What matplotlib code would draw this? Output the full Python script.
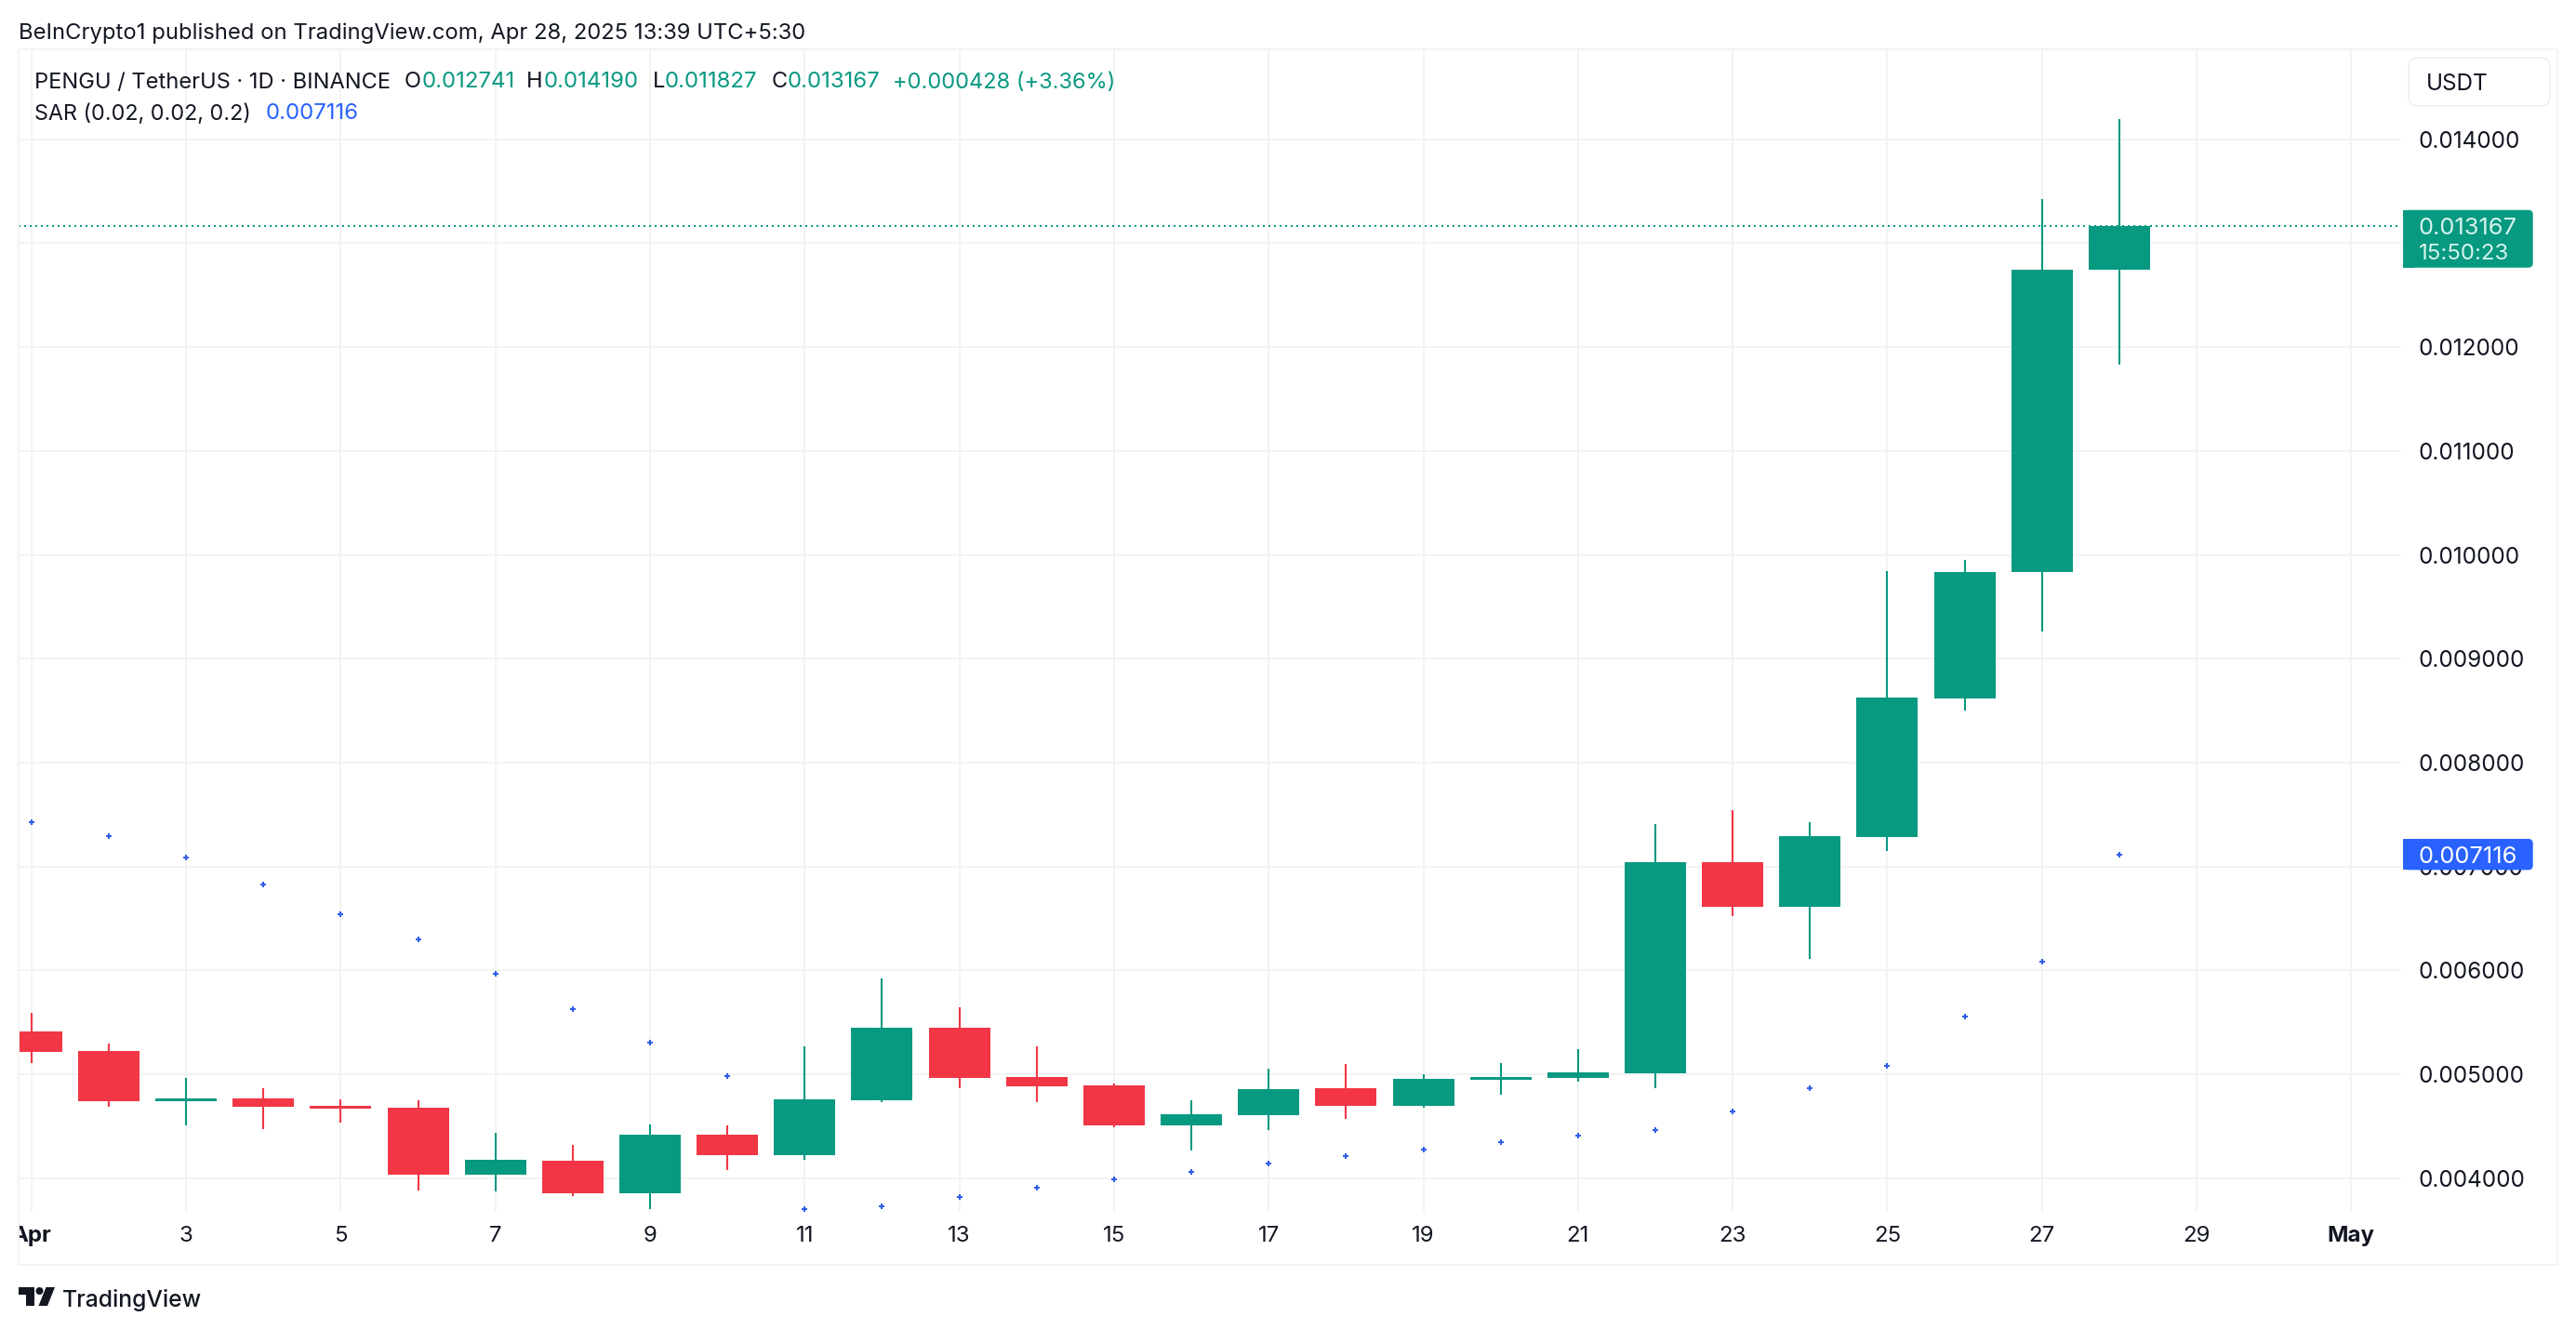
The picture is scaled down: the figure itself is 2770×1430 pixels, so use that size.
import matplotlib
matplotlib.use("Agg")
import matplotlib.pyplot as plt
from matplotlib.patches import Rectangle, FancyBboxPatch, Polygon, Circle
from matplotlib.transforms import Bbox

plt.rcParams['font.family'] = ['Inter', 'DejaVu Sans']

days = list(range(1, 29))
opens = [.005411, .005223, .004743, .004767, .004695, .004677, .004036, .004167, .003857, .004418,
         .004224, .004752, .005447, .004973, .004892, .004510, .004609, .004865, .004698, .004949,
         .004967, .005009, .007042, .006612, .007287, .008618, .009830, .012741]
highs = [.005590, .005295, .004964, .004865, .004758, .004749, .004436, .004319, .004516, .004507,
         .005268, .005921, .005644, .005268, .004910, .004749, .005053, .005098, .005000, .005107,
         .005241, .007406, .007543, .007427, .009839, .009952, .013424, .014190]
lows = [.005110, .004689, .004510, .004474, .004537, .003884, .003875, .003830, .003705, .004081,
        .004179, .004734, .004868, .004734, .004492, .004268, .004465, .004573, .004680, .004805,
        .004931, .004866, .006522, .006110, .007150, .008501, .009263, .011827]
closes = [.005217, .004743, .004767, .004689, .004668, .004036, .004176, .003857, .004418, .004224,
          .004758, .005447, .004967, .004886, .004510, .004615, .004856, .004698, .004955, .004973,
          .005017, .007039, .006612, .007293, .008627, .009830, .012741, .013167]
sar = [.007427, .007293, .007087, .006827, .006540, .006299, .005970, .005626, .005304, .004982,
       .003702, .003729, .003818, .003908, .003988, .004060, .004140, .004212, .004274, .004346,
       .004409, .004460, .004639, .004863, .005078, .005552, .006084, .007116]

price_ticks = [.004, .005, .006, .007, .008, .009, .010, .011, .012, .013, .014]
time_ticks = [1, 3, 5, 7, 9, 11, 13, 15, 17, 19, 21, 23, 25, 27, 29, 31]
time_labels = ['Apr', '3', '5', '7', '9', '11', '13', '15', '17', '19', '21', '23', '25', '27', '29', 'May']
last_price = closes[-1]
last_sar = sar[-1]
change_label = '+0.000428 (+3.36%)'

GREEN = '#089981'
RED = '#f23645'
BLUE = '#2962ff'
GRID = '#f2f3f3'
INK = '#131722'

W, H = 2770, 1430
L, R, T, B = 20, 2582, 53, 1303
PX_DAY = 83.15
X_D1 = 33.8
Y_014 = 149.7
PX_MILLI = 111.7

fig = plt.figure(figsize=(W / 100, H / 100), dpi=100, facecolor='white')
ax = fig.add_axes([L / W, 1 - B / H, (R - L) / W, (B - T) / H])
ax.set_xlim(1 + (L - X_D1) / PX_DAY, 1 + (R - X_D1) / PX_DAY)
ax.set_ylim(.014 - (B - Y_014) / PX_MILLI * .001, .014 + (Y_014 - T) / PX_MILLI * .001)
for s in ax.spines.values():
    s.set_visible(False)
ax.set_axisbelow(True)
ax.grid(True, color=GRID, linewidth=1.44)
ax.yaxis.tick_right()
ax.set_yticks(price_ticks)
ax.set_yticklabels([f'{v:.6f}' for v in price_ticks], fontsize=17.5, color=INK, ha='left')
ax.set_xticks(time_ticks)
ax.set_xticklabels(time_labels, fontsize=17.3, color=INK)
ax.tick_params(axis='y', length=0, pad=13.5)
ax.tick_params(axis='x', length=0, pad=11)
for lab in ax.get_xticklabels():
    if lab.get_text() in ('Apr', 'May'):
        lab.set_fontweight('bold')
    if lab.get_text() == 'Apr':
        lab.set_clip_box(Bbox([[L, 0], [W, H]]))
        lab.set_clip_on(True)

colors = [GREEN if c >= o else RED for o, c in zip(opens, closes)]
ax.vlines(days, lows, highs, colors=colors, linewidth=1.5, zorder=3)
ax.bar(days, [abs(c - o) for o, c in zip(opens, closes)],
       bottom=[min(o, c) for o, c in zip(opens, closes)],
       width=66 / PX_DAY, color=colors, linewidth=0, zorder=4)
ax.axhline(last_price, color=GREEN, linewidth=1.44, linestyle=(0, (1, 2)), zorder=3.5)
ax.plot(days, sar, linestyle='none', marker='+', markersize=4.6, markeredgewidth=1.5,
        color='#2f5fe8', zorder=5)

# pixel-space overlay for the page furniture
ov = fig.add_axes([0, 0, 1, 1], zorder=10)
ov.set_xlim(0, W)
ov.set_ylim(H, 0)
ov.axis('off')
ov.patch.set_alpha(0)


def y_px(v):
    return H - ax.transData.transform((1, v))[1]


ov.add_patch(Rectangle((L, T), 2750 - L, 1360 - T, fill=False, edgecolor=GRID, linewidth=1.44))


def txt(x, y, s, color=INK, size=17.0, weight='normal'):
    ov.text(x, y, s, color=color, fontsize=size, fontweight=weight, ha='left', va='center_baseline')


txt(20, 33, 'BeInCrypto1 published on TradingView.com, Apr 28, 2025 13:39 UTC+5:30', size=17.15)
txt(37, 86, 'PENGU / TetherUS · 1D · BINANCE', size=17.0)
for lx, vx, l, v in [(435, 453.5, 'O', opens[-1]), (566, 584.5, 'H', highs[-1]),
                     (701.5, 715, 'L', lows[-1]), (830, 847, 'C', closes[-1])]:
    txt(lx, 86, l)
    txt(vx, 86, f'{v:.6f}', color=GREEN, size=17.3)
txt(960, 86, change_label, color=GREEN)
txt(37, 120, 'SAR (0.02, 0.02, 0.2)', size=16.8)
txt(286, 120, f'{last_sar:.6f}', color=BLUE, size=17.3)

ov.add_patch(FancyBboxPatch((2598, 70), 136, 36, boxstyle='round,pad=8,rounding_size=10',
                            facecolor='white', edgecolor='#f0f1f3', linewidth=1.4))
txt(2609, 88, 'USDT', size=17.5)


def price_box(y0, y1, color):
    ov.add_patch(FancyBboxPatch((2590, y0 + 5), 128.7, y1 - y0 - 10, boxstyle='round,pad=5,rounding_size=5',
                                facecolor=color, edgecolor='none'))
    ov.add_patch(Rectangle((2584, y0), 12, y1 - y0, facecolor=color, edgecolor='none'))


yp = y_px(last_price)
price_box(yp - 17, yp + 45, GREEN)
ov.text(2601, yp, f'{last_price:.6f}', color='#d6f3ec', fontsize=18.3, ha='left', va='center_baseline')
ov.text(2601, yp + 28, '15:50:23', color='#d6f3ec', fontsize=17.3, ha='left', va='center_baseline')
ys = y_px(last_sar)
price_box(ys - 16.7, ys + 16.7, BLUE)
ov.text(2601, ys, f'{last_sar:.6f}', color='white', fontsize=18.3, ha='left', va='center_baseline')

# TradingView wordmark
ov.add_patch(Polygon([(20, 1384), (36.5, 1384), (36.5, 1404), (28, 1404), (28, 1392), (20, 1392)],
                     facecolor=INK, edgecolor='none'))
ov.add_patch(Circle((42.5, 1388), 4, facecolor=INK, edgecolor='none'))
ov.add_patch(Polygon([(49.5, 1384), (59, 1384), (51, 1404), (41.5, 1404)], facecolor=INK, edgecolor='none'))
ov.text(67, 1395, 'TradingView', color=INK, fontsize=17.8, fontweight='medium', ha='left', va='center_baseline')

fig.savefig('out.png', dpi=100, facecolor='white')
